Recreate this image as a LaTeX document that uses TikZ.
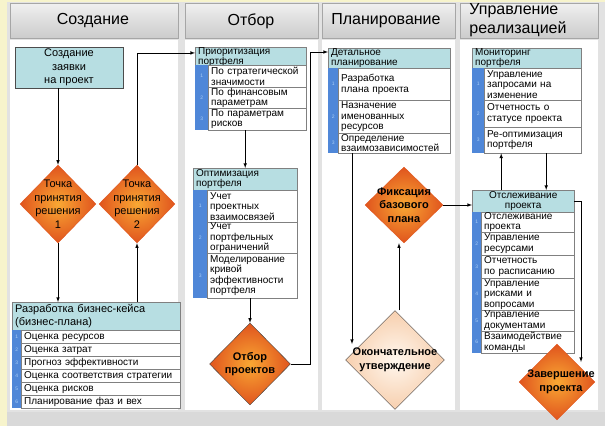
\documentclass[tikz,border=0pt]{standalone}
\usepackage{fontspec}
\setmainfont{Liberation Sans}
\usepackage{xcolor}
\usetikzlibrary{shapes.geometric}

\definecolor{pagebg}{HTML}{F7F4CC}
\definecolor{lanegap}{HTML}{E2E2E2}
\definecolor{laneline}{HTML}{A6A6A6}
\definecolor{headcyan}{HTML}{B7DEE2}
\definecolor{numblue}{HTML}{4F87D8}
\definecolor{numtext}{HTML}{A8CDF5}
\definecolor{dmid}{HTML}{F9A833}
\definecolor{dedge}{HTML}{E0541E}
\definecolor{pmid}{HTML}{FFF7EE}
\definecolor{pedge}{HTML}{F7CFAE}

\tikzset{
  lanetitle/.style={font=\fontsize{16}{19}\selectfont, inner sep=0pt, align=left},
  cyanbox/.style={draw=black!70, fill=headcyan, inner sep=0pt, align=center, font=\fontsize{11}{13.5}\selectfont},
  listhead/.style={draw=gray, fill=headcyan, anchor=north west, inner xsep=3pt, inner ysep=0pt, align=left, font=\fontsize{10}{10.5}\selectfont},
  itemcell/.style={draw=gray, fill=white, anchor=north west, inner xsep=3pt, inner ysep=0pt, align=left, font=\fontsize{10}{10.5}\selectfont},
  numcell/.style={fill=numblue, text=numtext, anchor=north west, inner sep=0pt, font=\fontsize{5}{5}\selectfont},
  decision/.style={diamond, inner sep=0pt, draw=dedge, line width=0.4pt, inner color=dmid, outer color=dedge},
  dtext/.style={align=center, inner sep=0pt, font=\fontsize{11}{13.5}\selectfont},
  dbold/.style={align=center, inner sep=0pt, font=\fontsize{11}{13.5}\selectfont\bfseries},
  arr/.style={-latex, line width=0.6pt},
}

\begin{document}
\begin{tikzpicture}[x=1pt, y=-1pt]
  \useasboundingbox (0,0) rectangle (605,426);

  % lanes
  \fill[pagebg] (0,0) rectangle (605,426);
  \fill[lanegap] (7,2) rectangle (605,426);
  \fill[white] (10,40) rectangle (178,410);
  \fill[white] (185,40) rectangle (318,410);
  \fill[white] (322,40) rectangle (455,410);
  \fill[white] (460,40) rectangle (598,410);
  \fill[black!15] (7,412) rectangle (605,426);
  \shadedraw[top color=black!6, bottom color=black!20, draw=laneline] (10,3) rectangle (178,38);
  \shadedraw[top color=black!6, bottom color=black!20, draw=laneline] (185,3) rectangle (318,38);
  \shadedraw[top color=black!6, bottom color=black!20, draw=laneline] (322,3) rectangle (455,38);
  \shadedraw[top color=black!6, bottom color=black!20, draw=laneline] (460,3) rectangle (598,38);
  \node[lanetitle] (t1) at (93,21) {Создание};
  \node[lanetitle] (t2) at (251,21) {Отбор};
  \node[lanetitle] (t3) at (386,21) {Планирование};
  \node[lanetitle] (t4) at (518,20) {Управление\\реализацией};

  % Создание
  \node[cyanbox, minimum width=108pt, minimum height=41pt] (req) at (69,67.5) {Создание\\заявки\\на проект};
  \node[decision, minimum width=76pt, minimum height=78pt] (d1) at (58,204) {};
  \node[dtext] (d1t) at (d1) {Точка\\принятия\\решения\\1};
  \node[decision, minimum width=76pt, minimum height=78pt] (d2) at (137,204) {};
  \node[dtext] (d2t) at (d2) {Точка\\принятия\\решения\\2};

  \node[listhead, text width=162pt, minimum height=28pt, font=\fontsize{11}{13}\selectfont] (bch) at (12,302) {Разработка бизнес-кейса\\(бизнес-плана)};
  \node[numcell, minimum width=9pt, minimum height=13pt] (bc1n) at (12,330) {1};
  \node[itemcell, text width=153pt, minimum height=13pt] (bc1) at (21,330) {Оценка ресурсов};
  \node[numcell, minimum width=9pt, minimum height=13pt] (bc2n) at (12,343) {2};
  \node[itemcell, text width=153pt, minimum height=13pt] (bc2) at (21,343) {Оценка затрат};
  \node[numcell, minimum width=9pt, minimum height=13pt] (bc3n) at (12,356) {3};
  \node[itemcell, text width=153pt, minimum height=13pt] (bc3) at (21,356) {Прогноз эффективности};
  \node[numcell, minimum width=9pt, minimum height=13pt] (bc4n) at (12,369) {4};
  \node[itemcell, text width=153pt, minimum height=13pt] (bc4) at (21,369) {Оценка соответствия стратегии};
  \node[numcell, minimum width=9pt, minimum height=13pt] (bc5n) at (12,382) {5};
  \node[itemcell, text width=153pt, minimum height=13pt] (bc5) at (21,382) {Оценка рисков};
  \node[numcell, minimum width=9pt, minimum height=13pt] (bc6n) at (12,395) {6};
  \node[itemcell, text width=153pt, minimum height=13pt] (bc6) at (21,395) {Планирование фаз и вех};

  % Отбор
  \node[listhead, text width=105pt, minimum height=18pt] (prio) at (195,47) {Приоритизация\\портфеля};
  \node[numcell, minimum width=13pt, minimum height=22pt] (prio1n) at (195,65) {1};
  \node[itemcell, text width=92pt, minimum height=22pt] (prio1) at (208,65) {По стратегической\\значимости};
  \node[numcell, minimum width=13pt, minimum height=21pt] (prio2n) at (195,87) {2};
  \node[itemcell, text width=92pt, minimum height=21pt] (prio2) at (208,87) {По финансовым\\параметрам};
  \node[numcell, minimum width=13pt, minimum height=22pt] (prio3n) at (195,108) {3};
  \node[itemcell, text width=92pt, minimum height=22pt] (prio3) at (208,108) {По параметрам\\рисков};

  \node[listhead, text width=98pt, minimum height=22pt] (opt) at (193,168) {Оптимизация\\портфеля};
  \node[numcell, minimum width=14pt, minimum height=32pt] (opt1n) at (193,190) {1};
  \node[itemcell, text width=84pt, minimum height=32pt] (opt1) at (207,190) {Учет\\проектных\\взаимосвязей};
  \node[numcell, minimum width=14pt, minimum height=31pt] (opt2n) at (193,222) {2};
  \node[itemcell, text width=84pt, minimum height=31pt] (opt2) at (207,222) {Учет\\портфельных\\ограничений};
  \node[numcell, minimum width=14pt, minimum height=45pt] (opt3n) at (193,253) {3};
  \node[itemcell, text width=84pt, minimum height=45pt] (opt3) at (207,253) {Моделирование\\кривой\\эффективности\\портфеля};

  \node[decision, draw=black!75, minimum width=81pt, minimum height=82pt] (d3) at (250,364) {};
  \node[dbold] (d3t) at (d3) {Отбор\\проектов};

  % Планирование
  \node[listhead, text width=116pt, minimum height=20pt] (det) at (328,48) {Детальное\\планирование};
  \node[numcell, minimum width=10pt, minimum height=32pt] (det1n) at (328,68) {1};
  \node[itemcell, text width=106pt, minimum height=32pt] (det1) at (338,68) {Разработка\\плана проекта};
  \node[numcell, minimum width=10pt, minimum height=33pt] (det2n) at (328,100) {2};
  \node[itemcell, text width=106pt, minimum height=33pt] (det2) at (338,100) {Назначение\\именованных\\ресурсов};
  \node[numcell, minimum width=10pt, minimum height=20pt] (det3n) at (328,133) {3};
  \node[itemcell, text width=106pt, minimum height=20pt] (det3) at (338,133) {Определение\\взаимозависимостей};

  \node[decision, minimum width=78pt, minimum height=76pt] (d4) at (404,205) {};
  \node[dbold] (d4t) at (d4) {Фиксация\\базового\\плана};
  \node[diamond, inner sep=0pt, draw=black!75, line width=0.4pt, inner color=pmid, outer color=pedge, minimum width=99pt, minimum height=99pt] (d5) at (395,360) {};
  \node[dbold] (d5t) at (d5) {Окончательное\\утверждение};

  % Управление реализацией
  \node[listhead, text width=103pt, minimum height=20pt] (mon) at (472,48) {Мониторинг\\портфеля};
  \node[numcell, minimum width=12pt, minimum height=32pt] (mon1n) at (472,68) {1};
  \node[itemcell, text width=91pt, minimum height=32pt] (mon1) at (484,68) {Управление\\запросами на\\изменение};
  \node[numcell, minimum width=12pt, minimum height=27pt] (mon2n) at (472,100) {2};
  \node[itemcell, text width=91pt, minimum height=27pt] (mon2) at (484,100) {Отчетность о\\статусе проекта};
  \node[numcell, minimum width=12pt, minimum height=26pt] (mon3n) at (472,127) {3};
  \node[itemcell, text width=91pt, minimum height=26pt] (mon3) at (484,127) {Ре-оптимизация\\портфеля};

  \node[listhead, align=center, text width=96pt, minimum height=22pt] (trk) at (472,190) {Отслеживание\\проекта};
  \node[numcell, minimum width=9pt, minimum height=20pt] (trk1n) at (472,212) {1};
  \node[itemcell, text width=87pt, minimum height=20pt] (trk1) at (481,212) {Отслеживание\\проекта};
  \node[numcell, minimum width=9pt, minimum height=23pt] (trk2n) at (472,232) {2};
  \node[itemcell, text width=87pt, minimum height=23pt] (trk2) at (481,232) {Управление\\ресурсами};
  \node[numcell, minimum width=9pt, minimum height=23pt] (trk3n) at (472,255) {3};
  \node[itemcell, text width=87pt, minimum height=23pt] (trk3) at (481,255) {Отчетность\\по расписанию};
  \node[numcell, minimum width=9pt, minimum height=32pt] (trk4n) at (472,278) {4};
  \node[itemcell, text width=87pt, minimum height=32pt] (trk4) at (481,278) {Управление\\рисками и\\вопросами};
  \node[numcell, minimum width=9pt, minimum height=21pt] (trk5n) at (472,310) {5};
  \node[itemcell, text width=87pt, minimum height=21pt] (trk5) at (481,310) {Управление\\документами};
  \node[numcell, minimum width=9pt, minimum height=22pt] (trk6n) at (472,331) {6};
  \node[itemcell, text width=87pt, minimum height=22pt] (trk6) at (481,331) {Взаимодействие\\команды};

  \node[decision, minimum width=76pt, minimum height=76pt] (d6) at (557,382) {};
  \node[dbold] (d6t) at ([xshift=4pt]d6) {Завершение\\проекта};

  % connectors
  \coordinate (k2) at (310,52);
  \coordinate (k3) at (352,344);
  \coordinate (k4) at (581,362);
  \draw[arr] (d1 |- req.south) -- (d1.north);
  \draw[arr] (d1.south) -- (d1 |- bch.north);
  \draw[arr] (d2 |- bch.north) -- (d2.south);
  \draw[arr] (d2.north) |- ([yshift=4pt]prio.west);
  \draw[arr] (prio3.south -| opt.north) -- (opt.north);
  \draw[arr] (opt3.south -| d3.north) -- (d3.north);
  \draw[arr] (d3.east) -| (k2) -- (k2 -| det.west);
  \draw[arr] (k3 |- det3.south) -- (k3);
  \draw[arr] ([xshift=4pt]d5.north) -- ([xshift=4pt]d5.north |- d4.south);
  \draw[arr] (d4.east) -- (d4.east -| trk.west);
  \draw[arr] ([xshift=-22pt]trk.north) -- ([xshift=-22pt]trk.north |- mon3.south);
  \draw[arr] ([xshift=23pt]trk.north |- mon3.south) -- ([xshift=23pt]trk.north);
  \draw[arr] (trk.east) -| (k4);
\end{tikzpicture}
\end{document}
